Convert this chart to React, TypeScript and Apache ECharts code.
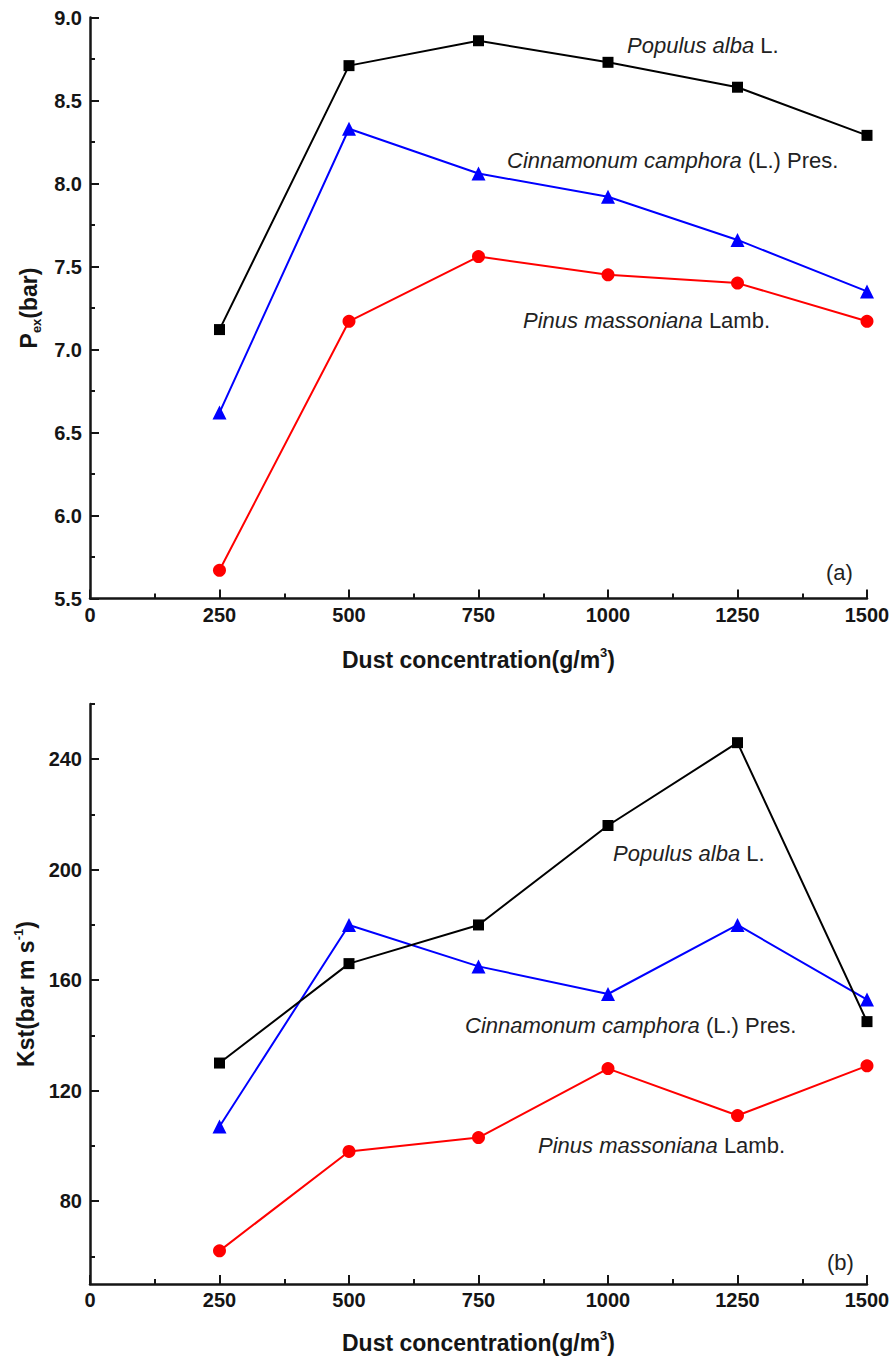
import React, { useEffect, useRef } from "react";
import * as echarts from "echarts";

// ---------- data ----------
const concentrations = [250, 500, 750, 1000, 1250, 1500];
const pexPopulus = [7.12, 8.71, 8.86, 8.73, 8.58, 8.29];
const pexCinnamomum = [6.62, 8.33, 8.06, 7.92, 7.66, 7.35];
const pexPinus = [5.67, 7.17, 7.56, 7.45, 7.4, 7.17];
const kstPopulus = [130, 166, 180, 216, 246, 145];
const kstCinnamomum = [107, 180, 165, 155, 180, 153];
const kstPinus = [62, 98, 103, 128, 111, 129];
const xMinorTicks = [125, 375, 625, 875, 1125, 1375];
const pexMinorTicks = [5.75, 6.25, 6.75, 7.25, 7.75, 8.25, 8.75];
const kstLabelTicks = [80, 120, 160, 200, 240];
const kstMinorTicks = [60, 100, 140, 180, 220, 260];
const speciesNames = ["Populus alba", "Cinnamonum camphora", "Pinus massoniana"];
const speciesSuffix = [" L.", " (L.) Pres.", " Lamb."];

// ---------- styles ----------
const FONT = '"Liberation Sans", Arial, Helvetica, sans-serif';
const AX = "#151515";
const COLORS = ["#000000", "#0000ff", "#ff0000"];
const SYMBOLS = ["rect", "triangle", "circle"];
const SYMBOL_SIZES = [11, 14, 13];

const pairs = (ys: number[]) => concentrations.map((x, i) => [x, ys[i]]);

const titleRich = {
  t: { fontSize: 23, fontWeight: "bold", color: AX, fontFamily: FONT, lineHeight: 28 },
  sup: { fontSize: 13, fontWeight: "bold", color: AX, fontFamily: FONT, lineHeight: 13, verticalAlign: "top" },
  sub: { fontSize: 13, fontWeight: "bold", color: AX, fontFamily: FONT, lineHeight: 13, verticalAlign: "bottom" },
};

const axisLineStyle = { show: true, onZero: false, lineStyle: { color: AX, width: 2.5 } };
const labelStyle = { fontSize: 20, fontWeight: "bold", color: AX, fontFamily: FONT };

function xAxisFor(gridIndex: number, nameGap: number) {
  return {
    type: "value",
    gridIndex,
    position: "bottom",
    min: 0,
    max: 1500,
    interval: 250,
    axisLine: axisLineStyle,
    axisTick: { show: true, inside: true, length: 9, lineStyle: { color: AX, width: 2 } },
    axisLabel: { ...labelStyle, margin: 6, formatter: (v: number) => String(v) },
    splitLine: { show: false },
    name: "{t|Dust concentration(g/m}{sup|3}{t|)}",
    nameLocation: "middle",
    nameGap,
    nameTextStyle: { rich: titleRich },
  };
}

function minorAxis(kind: "x" | "y", gridIndex: number, min: number, max: number, values: number[]) {
  return {
    type: "value",
    gridIndex,
    position: kind === "x" ? "bottom" : "left",
    min,
    max,
    axisLine: { show: false, onZero: false },
    axisTick: { show: true, inside: true, length: 5, customValues: values, lineStyle: { color: AX, width: 2 } },
    axisLabel: { show: false },
    splitLine: { show: false },
  };
}

function annotation(idx: number, x: number, y: number) {
  return {
    type: "text",
    x,
    y,
    style: {
      text: `{i|${speciesNames[idx]}}{n|${speciesSuffix[idx]}}`,
      verticalAlign: "middle",
      rich: {
        i: { fontStyle: "italic", fontSize: 22, fontFamily: FONT, fill: "#222", color: "#222" },
        n: { fontSize: 22, fontFamily: FONT, fill: "#222", color: "#222" },
      },
    },
  };
}

function panelLabel(text: string, x: number, y: number) {
  return {
    type: "text",
    x,
    y,
    style: { text, fontSize: 22, fontFamily: FONT, fill: "#222", verticalAlign: "middle" },
  };
}

export default function App() {
  const ref = useRef<HTMLDivElement>(null);
  useEffect(() => {
    if (!ref.current) return;
    const chart = echarts.init(ref.current, null, { renderer: "svg" });
    const pexSeries = [pexPopulus, pexCinnamomum, pexPinus];
    const kstSeries = [kstPopulus, kstCinnamomum, kstPinus];
    const series: any[] = [];
    const addSeries = (ys: number[], i: number, axisIndex: number) =>
      series.push({
        type: "line",
        name: speciesNames[i],
        xAxisIndex: axisIndex,
        yAxisIndex: axisIndex,
        data: pairs(ys),
        symbol: SYMBOLS[i],
        symbolSize: SYMBOL_SIZES[i],
        lineStyle: { color: COLORS[i], width: 2 },
        itemStyle: { color: COLORS[i] },
        z: 3 - i,
      });
    pexSeries.forEach((ys, i) => addSeries(ys, i, 0));
    kstSeries.forEach((ys, i) => addSeries(ys, i, 1));

    const option: any = {
      animation: false,
      backgroundColor: "#ffffff",
      grid: [
        { left: 90, top: 17.5, width: 777, height: 581 },
        { left: 90, top: 704, width: 777, height: 580 },
      ],
      xAxis: [
        xAxisFor(0, 47),
        xAxisFor(1, 45),
        minorAxis("x", 0, 0, 1500, xMinorTicks),
        minorAxis("x", 1, 0, 1500, xMinorTicks),
      ],
      yAxis: [
        {
          type: "value",
          gridIndex: 0,
          position: "left",
          min: 5.5,
          max: 9,
          interval: 0.5,
          axisLine: axisLineStyle,
          axisTick: { show: true, inside: true, length: 9, lineStyle: { color: AX, width: 2 } },
          axisLabel: { ...labelStyle, margin: 8, formatter: (v: number) => v.toFixed(1) },
          splitLine: { show: false },
          name: "{t|P}{sub|ex}{t|(bar)}",
          nameLocation: "middle",
          nameRotate: 90,
          nameGap: 46,
          nameTextStyle: { rich: titleRich },
        },
        {
          type: "value",
          gridIndex: 1,
          position: "left",
          min: 50,
          max: 260,
          axisLine: axisLineStyle,
          axisTick: {
            show: true,
            inside: true,
            length: 9,
            customValues: kstLabelTicks,
            lineStyle: { color: AX, width: 2 },
          },
          axisLabel: { ...labelStyle, margin: 8, customValues: kstLabelTicks },
          splitLine: { show: false },
          name: "{t|Kst(bar m s}{sup|-1}{t|)}",
          nameLocation: "middle",
          nameRotate: 90,
          nameGap: 46,
          nameTextStyle: { rich: titleRich },
        },
        minorAxis("y", 0, 5.5, 9, pexMinorTicks),
        minorAxis("y", 1, 50, 260, kstMinorTicks),
      ],
      series,
      graphic: [
        annotation(0, 627, 45),
        annotation(1, 507, 160),
        annotation(2, 523, 320),
        panelLabel("(a)", 826, 572),
        annotation(0, 613, 853),
        annotation(1, 465, 1025),
        annotation(2, 538, 1145),
        panelLabel("(b)", 827, 1262),
      ],
    };
    chart.setOption(option);
    return () => chart.dispose();
  }, []);

  return (
    <div
      ref={ref}
      style={{ position: "absolute", left: 0, top: 0, width: 893, height: 1358, background: "#fff" }}
    />
  );
}
